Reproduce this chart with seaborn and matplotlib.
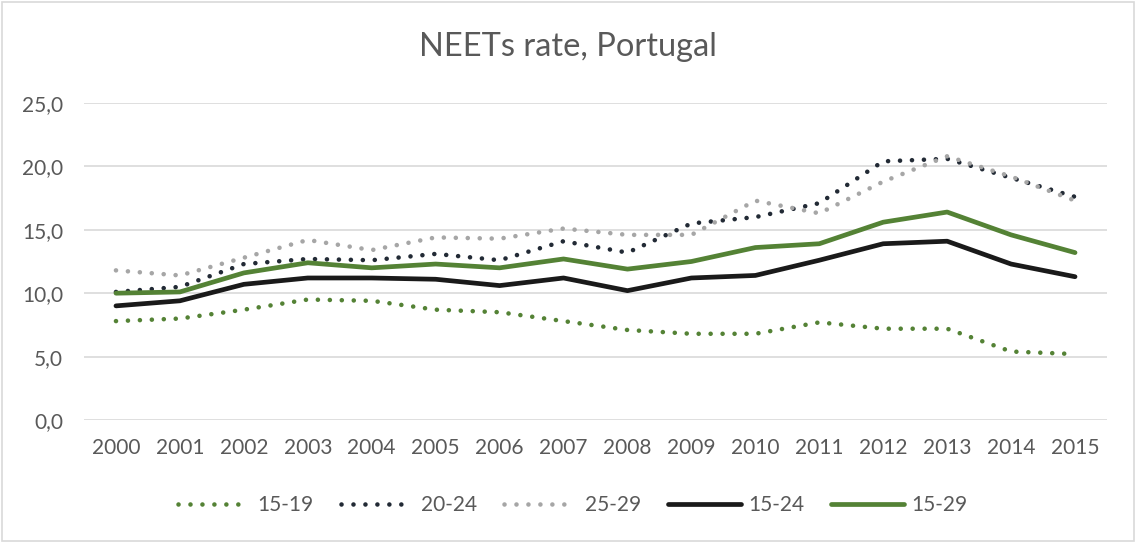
import matplotlib
matplotlib.use("Agg")
import matplotlib.pyplot as plt
import seaborn as sns
import pandas as pd
from matplotlib.ticker import FuncFormatter, MultipleLocator
from matplotlib.patches import Rectangle
from matplotlib.legend_handler import HandlerLine2D

years = [str(y) for y in range(2000, 2016)]
s15_19 = [7.8, 8.0, 8.7, 9.5, 9.4, 8.7, 8.5, 7.8, 7.1, 6.8, 6.8, 7.7, 7.2, 7.2, 5.4, 5.2]
s20_24 = [10.1, 10.5, 12.3, 12.7, 12.6, 13.1, 12.6, 14.1, 13.2, 15.5, 16.0, 17.1, 20.4, 20.6, 19.1, 17.6]
s25_29 = [11.8, 11.4, 12.8, 14.2, 13.4, 14.4, 14.3, 15.1, 14.6, 14.6, 17.3, 16.3, 18.8, 20.8, 19.2, 17.3]
s15_24 = [9.0, 9.4, 10.7, 11.2, 11.2, 11.1, 10.6, 11.2, 10.2, 11.2, 11.4, 12.6, 13.9, 14.1, 12.3, 11.3]
s15_29 = [10.0, 10.1, 11.6, 12.4, 12.0, 12.3, 12.0, 12.7, 11.9, 12.5, 13.6, 13.9, 15.6, 16.4, 14.6, 13.2]

series = [
    ("15-19", s15_19, "#548235", "dot"),
    ("20-24", s20_24, "#222A35", "dot"),
    ("25-29", s25_29, "#A6A6A6", "dot"),
    ("15-24", s15_24, "#1a1a1a", "solid"),
    ("15-29", s15_29, "#548235", "solid"),
]

sns.set_theme(style="white")
plt.rcParams["font.family"] = ["Lato", "DejaVu Sans"]

W, H = 1136, 543
fig = plt.figure(figsize=(W / 100, H / 100), dpi=100)
ax = fig.add_axes([84 / W, 1 - 420 / H, (1107 - 84) / W, (420 - 103) / H])

x = list(range(len(years)))
for name, vals, color, style in series:
    df = pd.DataFrame({"x": x, "v": vals})
    if style == "dot":
        sns.lineplot(data=df, x="x", y="v", ax=ax, color=color, lw=3.3,
                     linestyle=(0, (0.01, 2.6)), dash_capstyle="round",
                     label=name, zorder=3)
    else:
        sns.lineplot(data=df, x="x", y="v", ax=ax, color=color, lw=3.4,
                     solid_capstyle="round", label=name, zorder=4)

ax.set_xlim(-0.5, 15.5)
ax.set_ylim(0, 25)
ax.yaxis.set_major_locator(MultipleLocator(5))
ax.yaxis.set_major_formatter(FuncFormatter(lambda v, p: f"{v:.1f}".replace(".", ",")))
ax.set_xticks(x)
ax.set_xticklabels(years)
ax.set_xlabel("")
ax.set_ylabel("")
ax.grid(axis="y", color="#D9D9D9", lw=1.2)
ax.set_axisbelow(True)
for s in ax.spines.values():
    s.set_visible(False)
ax.tick_params(axis="both", length=0, labelsize=15, colors="#595959")
ax.tick_params(axis="x", pad=13)
ax.tick_params(axis="y", pad=15)

fig.text(0.5, 1 - 47 / H, "NEETs rate, Portugal", fontsize=23.5, color="#595959",
         ha="center", va="center")


class ShortHandler(HandlerLine2D):
    def create_artists(self, legend, orig_handle, xdescent, ydescent, width,
                       height, fontsize, trans):
        return super().create_artists(legend, orig_handle, xdescent, ydescent,
                                      width * 0.84, height, fontsize, trans)


handles, labels = ax.get_legend_handles_labels()
if ax.legend_:
    ax.legend_.remove()
hmap = {h: ShortHandler() for h, (_, _, _, st) in zip(handles, series) if st == "dot"}
leg = fig.legend(handles, labels, loc="center", bbox_to_anchor=(0.504, 1 - 505 / H), ncol=5,
                 frameon=False, fontsize=15, handlelength=3.5, columnspacing=1.3,
                 handletextpad=0.35, borderaxespad=0, handler_map=hmap)
for t in leg.get_texts():
    t.set_color("#595959")

fig.patches.append(Rectangle((0.002, 0.003), 0.996, 0.994, transform=fig.transFigure,
                             fill=False, edgecolor="#D9D9D9", lw=1.2))

fig.savefig("out.png", dpi=100)
